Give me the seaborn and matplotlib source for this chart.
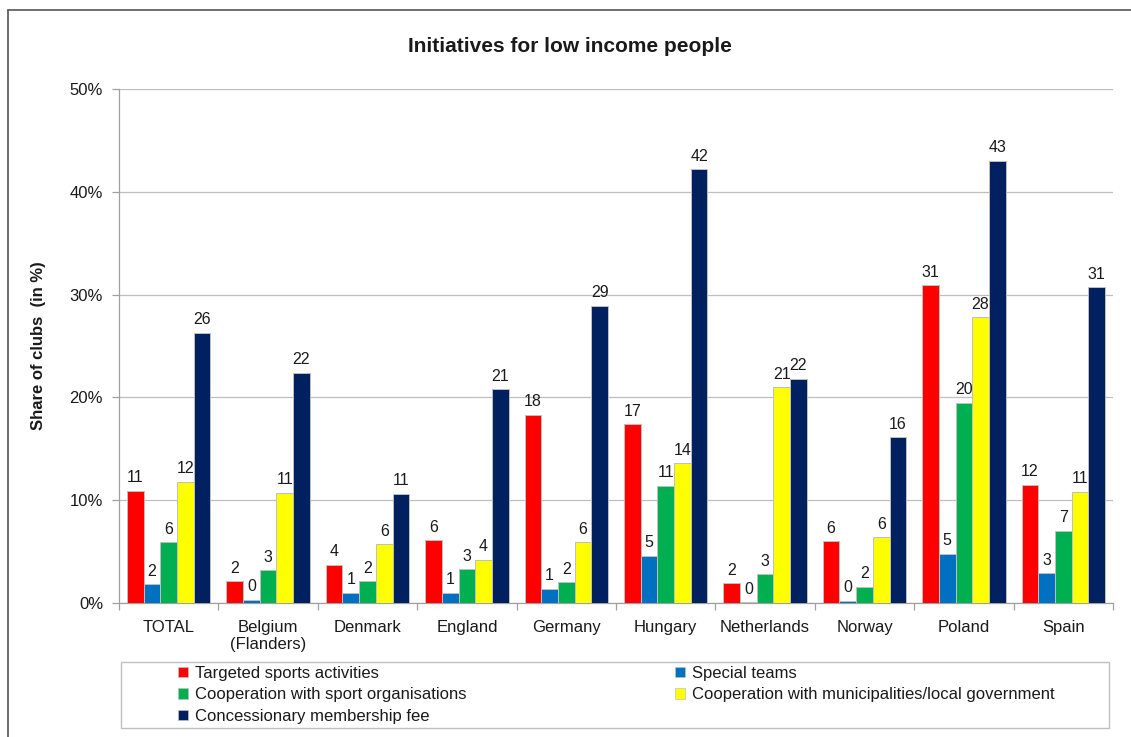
import matplotlib
matplotlib.use("Agg")
import matplotlib.pyplot as plt
import seaborn as sns
import pandas as pd
from matplotlib.patches import Patch, Rectangle
from matplotlib.lines import Line2D
from matplotlib.ticker import FixedLocator

categories = ["TOTAL", "Belgium\n(Flanders)", "Denmark", "England", "Germany",
              "Hungary", "Netherlands", "Norway", "Poland", "Spain"]
series_names = ["Targeted sports activities", "Special teams",
                "Cooperation with sport organisations",
                "Cooperation with municipalities/local government",
                "Concessionary membership fee"]
targeted = [10.9, 2.1, 3.7, 6.1, 18.3, 17.4, 1.9, 6.0, 30.9, 11.5]
special = [1.8, 0.3, 1.0, 1.0, 1.4, 4.6, 0.05, 0.2, 4.8, 2.9]
coop_sport = [5.9, 3.2, 2.1, 3.3, 2.0, 11.4, 2.8, 1.6, 19.5, 7.0]
coop_munic = [11.8, 10.7, 5.7, 4.2, 5.9, 13.6, 21.0, 6.4, 27.8, 10.8]
concession = [26.3, 22.4, 10.6, 20.8, 28.9, 42.2, 21.8, 16.1, 43.0, 30.7]
colors = ["#FF0000", "#0070C0", "#00B050", "#FFFF00", "#002060"]

all_series = [targeted, special, coop_sport, coop_munic, concession]
rows = []
for name, vals in zip(series_names, all_series):
    for c, v in zip(categories, vals):
        rows.append({"country": c, "series": name, "value": v})
df = pd.DataFrame(rows)

sns.set_theme(style="white")
plt.rcParams["font.family"] = ["Liberation Sans", "DejaVu Sans"]

fig = plt.figure(figsize=(11.31, 7.37), dpi=100)
ax = fig.add_axes([119/1131, 1-603/737, (1113-119)/1131, (603-89)/737])

sns.barplot(data=df, x="country", y="value", hue="series", order=categories,
            hue_order=series_names, palette=colors, saturation=1, width=0.84,
            edgecolor="#BFBFBF", linewidth=0.7, legend=False, ax=ax, zorder=3)

for cont in ax.containers:
    ax.bar_label(cont, fmt="%.0f", padding=4, fontsize=11.5, color="#1a1a1a")

ax.set_ylim(0, 50)
ax.set_xlim(-0.5, len(categories) - 0.5)
ax.set_yticks([0, 10, 20, 30, 40, 50])
ax.set_yticklabels(["0%", "10%", "20%", "30%", "40%", "50%"], fontsize=12, color="#1a1a1a")
ax.yaxis.grid(True, color="#BEBEBE", linewidth=0.9, zorder=0)
ax.set_axisbelow(True)
ax.tick_params(axis="y", left=True, length=5, color="#A0A0A0", width=0.9, pad=6.5)
ax.tick_params(axis="x", which="major", bottom=False, labelsize=12, labelcolor="#1a1a1a", pad=6)
ax.xaxis.set_minor_locator(FixedLocator([i - 0.5 for i in range(len(categories) + 1)]))
ax.tick_params(axis="x", which="minor", bottom=True, length=5, color="#A0A0A0", width=0.9)
for s in ["top", "right"]:
    ax.spines[s].set_visible(False)
for s in ["left", "bottom"]:
    ax.spines[s].set_color("#A0A0A0")
    ax.spines[s].set_linewidth(0.9)
ax.set_xlabel("")
ax.set_ylabel("Share of clubs  (in %)", fontsize=12, fontweight="bold", color="#1a1a1a")
ax.yaxis.set_label_coords((46 - 119) / (1113 - 119), 0.5)

fig.text(570/1131, 1-47/737, "Initiatives for low income people", ha="center", va="center",
         fontsize=15, fontweight="bold", color="#1a1a1a")

# legend box
fig.add_artist(Rectangle((121/1131, 1-728/737), (1109-121)/1131, (728-662)/737,
                         transform=fig.transFigure, facecolor="white",
                         edgecolor="#BFBFBF", linewidth=1.0))
handles = [Patch(facecolor=c, edgecolor="#BFBFBF", linewidth=0.5) for c in colors]
common = dict(loc="upper left", frameon=False, fontsize=12, handlelength=0.6,
              handleheight=0.6, handletextpad=0.4, labelspacing=0.38,
              borderaxespad=0, borderpad=0)
leg1 = fig.legend([handles[i] for i in [0, 2, 4]], [series_names[i] for i in [0, 2, 4]],
                  bbox_to_anchor=(178/1131, 1-666/737), **common)
leg2 = fig.legend([handles[i] for i in [1, 3]], [series_names[i] for i in [1, 3]],
                  bbox_to_anchor=(675/1131, 1-666/737), **common)
for leg in (leg1, leg2):
    for t in leg.get_texts():
        t.set_color("#1a1a1a")

# outer chart border (left and top edges visible)
fig.add_artist(Line2D([8/1131, 8/1131], [0, 1-10/737], transform=fig.transFigure,
                      color="#555555", linewidth=1.2))
fig.add_artist(Line2D([8/1131, 1], [1-10/737, 1-10/737], transform=fig.transFigure,
                      color="#555555", linewidth=1.2))

fig.savefig("out.png", dpi=100)
